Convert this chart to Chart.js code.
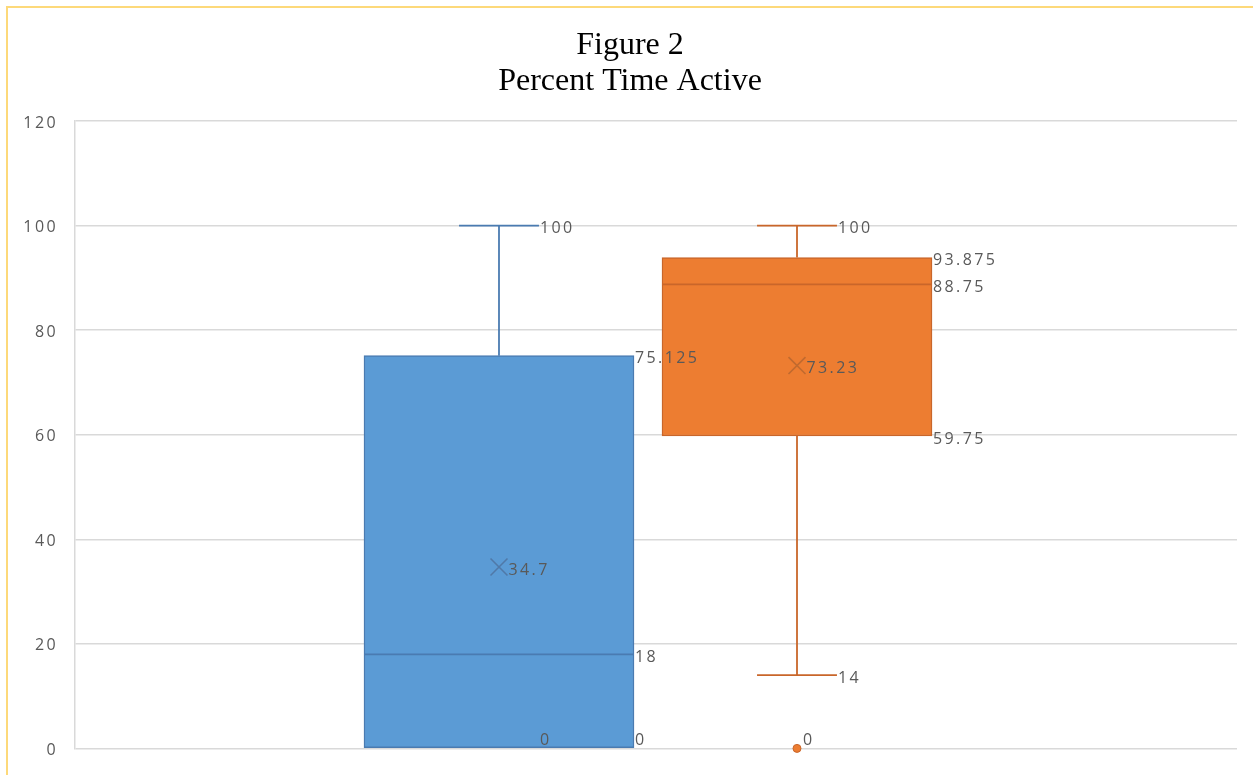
<!DOCTYPE html>
<html>
<head>
<meta charset="utf-8">
<title>Percent Time Active</title>
<script src="https://cdn.jsdelivr.net/npm/chart.js@4/dist/chart.umd.min.js"></script>
<style>
  html, body { margin: 0; padding: 0; background: #fff; }
  #wrap { position: relative; width: 1253px; height: 775px; overflow: hidden; }
  #frame {
    position: absolute; left: 6px; top: 6px; right: -10px; bottom: -10px;
    border-left: 2px solid #fdd97a; border-top: 2px solid #fdd97a;
  }
  #chart { position: absolute; left: 0; top: 0; }
</style>
</head>
<body>
<div id="wrap">
  <div id="frame"></div>
  <canvas id="chart" width="1253" height="775"></canvas>
</div>
<script>
/* ── data ────────────────────────────────────────────────── */

const SERIES   = ["Group 1", "Group 2"];
const MIN      = [0, 14];
const Q1       = [0, 59.75];
const MEDIAN   = [18, 88.75];
const Q3       = [75.125, 93.875];
const MAX      = [100, 100];
const MEAN     = [34.7, 73.23];
const OUTLIERS = [[], [0]];

const Y_TICKS  = { min: 0, max: 120, step: 20 };

/* ── styles ──────────────────────────────────────────────── */

const FILL      = ["#5b9bd5", "#ed7d31"];
const EDGE      = ["#4a7bb1", "#c9662a"];
const MEAN_EDGE = ["#5079a8", "#c06a2f"];
const TEXT      = "#595959";
const GRID      = "#d9d9d9";
const LABEL_FONT    = "16px 'Open Sans'";
const LABEL_SPACING = "2.4px";
const CAP_RATIO     = 0.296;   // cap length relative to box width
const MEAN_RADIUS   = 12;

/* ── helpers ─────────────────────────────────────────────── */

// series are placed at x = 1, 2, ... on a linear axis
const pos = i => i + 1;

function hline(ctx, x0, x1, y) {
  ctx.beginPath(); ctx.moveTo(x0, y); ctx.lineTo(x1, y); ctx.stroke();
}
function vline(ctx, x, y0, y1) {
  ctx.beginPath(); ctx.moveTo(x, y0); ctx.lineTo(x, y1); ctx.stroke();
}

/* ── plugins ─────────────────────────────────────────────── */

// y tick labels are drawn with wide letter spacing
const spacedTicks = {
  id: "spacedTicks",
  afterLayout(chart) {
    const scale = chart.scales.y;
    if (scale.$spaced) return;
    const draw = scale.drawLabels;
    scale.drawLabels = function (area) {
      this.ctx.save();
      this.ctx.letterSpacing = LABEL_SPACING;
      draw.call(this, area);
      this.ctx.restore();
    };
    scale.$spaced = true;
  },
};

// whiskers, caps, median lines and the value labels
const whiskers = {
  id: "whiskers",
  beforeDatasetsDraw(chart) {
    const { ctx, scales: { x, y } } = chart;
    const boxes = chart.getDatasetMeta(2).data;
    ctx.save();
    ctx.lineWidth = 1.8;
    SERIES.forEach((_, i) => {
      const cx = x.getPixelForValue(pos(i));
      const half = boxes[i].width * CAP_RATIO / 2;
      ctx.strokeStyle = EDGE[i];
      // a whisker of zero length sits on the box edge and is left out
      if (MAX[i] > Q3[i]) {
        vline(ctx, cx, y.getPixelForValue(Q3[i]), y.getPixelForValue(MAX[i]));
        hline(ctx, cx - half, cx + half, y.getPixelForValue(MAX[i]));
      }
      if (MIN[i] < Q1[i]) {
        vline(ctx, cx, y.getPixelForValue(Q1[i]), y.getPixelForValue(MIN[i]));
        hline(ctx, cx - half, cx + half, y.getPixelForValue(MIN[i]));
      }
    });
    ctx.restore();
  },
  afterDatasetsDraw(chart) {
    const { ctx, chartArea, scales: { x, y } } = chart;
    const boxes = chart.getDatasetMeta(2).data;
    const labelY = v => Math.min(y.getPixelForValue(v) + 3, chartArea.bottom - 8);

    ctx.save();
    ctx.lineWidth = 1.8;
    SERIES.forEach((_, i) => {
      const b = boxes[i];
      ctx.strokeStyle = EDGE[i];
      hline(ctx, b.x - b.width / 2, b.x + b.width / 2, y.getPixelForValue(MEDIAN[i]));
    });

    ctx.font = LABEL_FONT;
    ctx.letterSpacing = LABEL_SPACING;
    ctx.fillStyle = TEXT;
    ctx.textAlign = "left";
    ctx.textBaseline = "middle";
    const put = (v, px) => ctx.fillText(String(v), px, labelY(v));

    SERIES.forEach((_, i) => {
      const b = boxes[i];
      const cx = x.getPixelForValue(pos(i));
      const capRight = cx + b.width * CAP_RATIO / 2 + 1;
      const boxRight = b.x + b.width / 2 + 1;
      put(MAX[i], capRight);
      put(MIN[i], capRight);
      put(Q3[i], boxRight);
      put(MEDIAN[i], boxRight);
      put(Q1[i], boxRight);
      put(MEAN[i], cx + MEAN_RADIUS * 0.71 + 1);
      OUTLIERS[i].forEach(v => put(v, cx + 6));
    });
    ctx.restore();
  },
};

/* ── chart ───────────────────────────────────────────────── */

new Chart(document.getElementById("chart"), {
  data: {
    datasets: [
      {
        type: "scatter",
        label: "Mean",
        data: MEAN.map((v, i) => ({ x: pos(i), y: v })),
        pointStyle: "crossRot",
        pointRadius: MEAN_RADIUS,
        pointBorderWidth: 1.6,
        pointBorderColor: MEAN_EDGE,
        pointBackgroundColor: "transparent",
        clip: false,
        order: 1,
      },
      {
        type: "scatter",
        label: "Outliers",
        data: OUTLIERS.flatMap((list, i) => list.map(v => ({ x: pos(i), y: v }))),
        pointStyle: "circle",
        pointRadius: 4,
        pointBorderWidth: 1,
        pointBackgroundColor: c => FILL[c.raw.x - 1],
        pointBorderColor: c => EDGE[c.raw.x - 1],
        clip: false,
        order: 1,
      },
      {
        type: "bar",
        label: "Box",
        data: SERIES.map((_, i) => ({ x: pos(i), y: [Q1[i], Q3[i]] })),
        backgroundColor: FILL,
        borderColor: EDGE,
        borderWidth: 1.5,
        borderSkipped: false,
        barThickness: 270,
        order: 3,
      },
    ],
  },
  options: {
    responsive: false,
    animation: false,
    layout: { padding: { left: 23, right: 16, top: 0, bottom: 26 } },
    plugins: {
      legend: { display: false },
      tooltip: { enabled: false },
      title: {
        display: true,
        text: ["Figure 2", "Percent Time Active"],
        color: "#000",
        font: { family: "'Liberation Serif'", size: 32, weight: "normal", lineHeight: 1.11 },
        padding: { top: 28, bottom: 22 },
      },
    },
    scales: {
      x: {
        type: "linear",
        display: false,
        offset: false,
        min: -0.4228,
        max: 3.4765,
      },
      y: {
        min: Y_TICKS.min,
        max: Y_TICKS.max,
        afterFit: s => { s.width = 52; },
        ticks: {
          stepSize: Y_TICKS.step,
          color: TEXT,
          padding: 17,
          labelOffset: 2,
          font: { family: "'Open Sans'", size: 16 },
        },
        grid: { color: GRID, lineWidth: 1.5, drawTicks: false },
        border: { display: true, color: GRID, width: 1.5 },
      },
    },
  },
  plugins: [spacedTicks, whiskers],
});
</script>
</body>
</html>
